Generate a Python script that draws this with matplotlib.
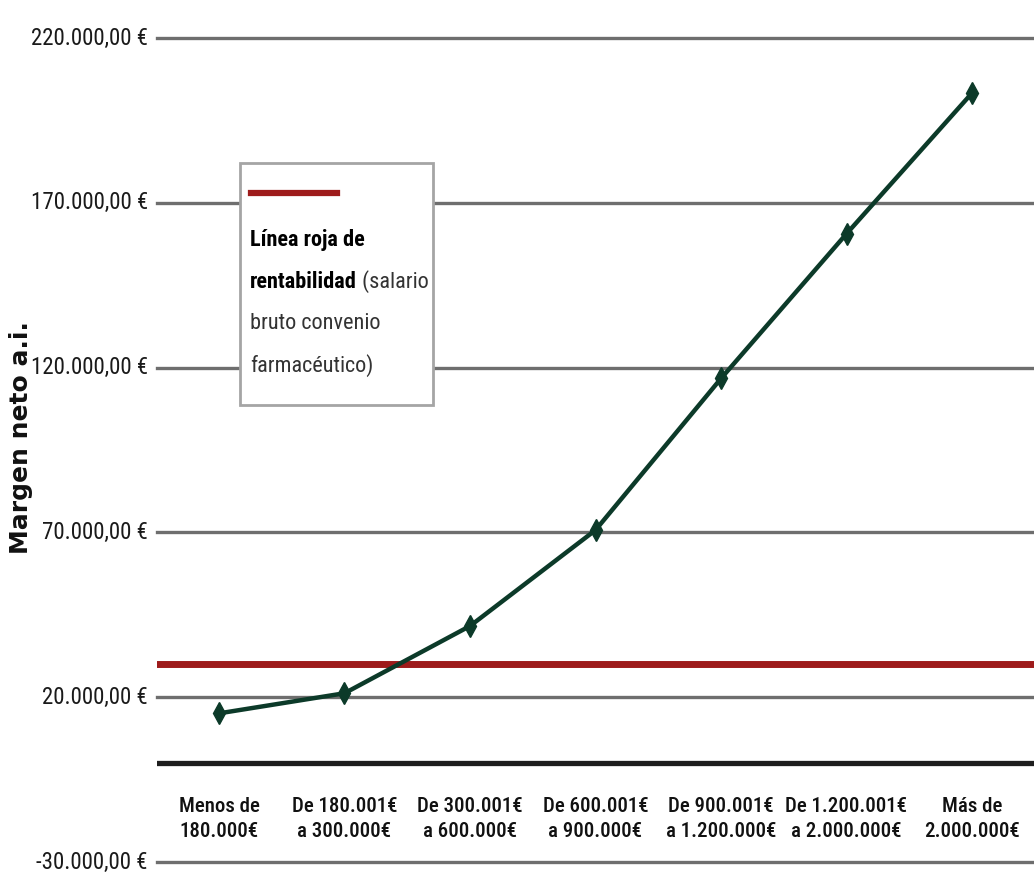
import matplotlib
matplotlib.use('Agg')
import matplotlib.pyplot as plt
from matplotlib.patches import Rectangle

# tramos de facturación y margen neto antes de impuestos
tramos = ['Menos de\n180.000€', 'De 180.001€\na 300.000€', 'De 300.001€\na 600.000€',
          'De 600.001€\na 900.000€', 'De 900.001€\na 1.200.000€',
          'De 1.200.001€\na 2.000.000€', 'Más de\n2.000.000€']
margen_neto = [15100, 21200, 41600, 70700, 116700, 160600, 203300]
linea_roja = 30000
y_ticks = [-30000, 20000, 70000, 120000, 170000, 220000]

FUENTE = ['Roboto Condensed', 'DejaVu Sans']


def euros(v):
    s = f'{abs(v):,.2f}'.replace(',', 'X').replace('.', ',').replace('X', '.')
    return ('-' if v < 0 else '') + s + ' €'


fig = plt.figure(figsize=(10.34, 8.72), dpi=100)
ax = fig.add_axes([157 / 1034, 10 / 872, 1 - 157 / 1034, 824 / 872])
ax.set_xlim(-0.494, 6.494)
ax.set_ylim(-30000, 220000)
ax.axis('off')

# líneas de referencia horizontales
for v in y_ticks:
    ax.axhline(v, color='#6e6e6e', lw=2.4, zorder=1, clip_on=False)
    ax.text(-0.566, v, euros(v), ha='right', va='center', fontsize=16.5,
            family=FUENTE, color='#1a1a1a', clip_on=False)
ax.axhline(0, color='#1e1e1e', lw=3.8, zorder=1)

# línea roja de rentabilidad
ax.axhline(linea_roja, color='#9e1b1b', lw=5, zorder=2)

# evolución del margen
x = list(range(len(tramos)))
ax.plot(x, margen_neto, color='#0c3a29', lw=3.2, marker='d', ms=11,
        mec='#0c3a29', mfc='#0c3a29', zorder=3, solid_capstyle='round')

# etiquetas de tramo
for i, t in enumerate(tramos):
    ax.text(i, -17000, t, ha='center', va='center', fontsize=15, family=FUENTE,
            fontweight=500, color='#111111', linespacing=1.4)

# título del eje vertical
fig.text(21 / 1034, 1 - 438 / 872, 'Margen neto a.i.', rotation=90, ha='center',
         va='center', fontsize=18, fontweight='bold', family='DejaVu Sans', color='#111111')

# leyenda dibujada a mano
fig.patches.append(Rectangle((240 / 1034, 1 - 405 / 872), 193 / 1034, 242 / 872,
                             transform=fig.transFigure, facecolor='white',
                             edgecolor='#a5a5a5', lw=2, zorder=5))
fig.lines.append(plt.Line2D([251 / 1034, 337 / 1034], [1 - 193 / 872, 1 - 193 / 872],
                            transform=fig.transFigure, color='#9e1b1b', lw=4.5, zorder=6))
fx = 250 / 1034
fig.text(fx, 1 - 240 / 872, 'Línea roja de', fontsize=16, fontweight='bold',
         family=FUENTE, va='center', zorder=7)
t1 = fig.text(fx, 1 - 282 / 872, 'rentabilidad', fontsize=16, fontweight='bold',
              family=FUENTE, va='center', zorder=7)
fig.canvas.draw()
bb = t1.get_window_extent()
fig.text(bb.x1 / 1034, 1 - 282 / 872, ' (salario', fontsize=16,
         family=FUENTE, va='center', color='#333333', zorder=7)
fig.text(fx, 1 - 323 / 872, 'bruto convenio', fontsize=16, family=FUENTE,
         va='center', color='#333333', zorder=7)
fig.text(fx, 1 - 366 / 872, 'farmacéutico)', fontsize=16, family=FUENTE,
         va='center', color='#333333', zorder=7)

fig.savefig('out.png', dpi=100, facecolor='white')
plt.close(fig)
